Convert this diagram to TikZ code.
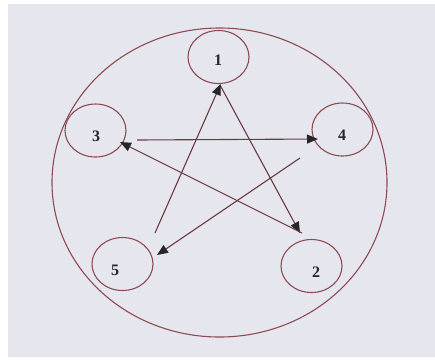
\documentclass[tikz,border=0pt]{standalone}
\usepackage{fontspec}
\setmainfont{Liberation Serif}
\usetikzlibrary{arrows.meta,shapes.geometric}
\definecolor{bg}{HTML}{E6E7EE}
\definecolor{ring}{HTML}{8E4A54}
\definecolor{arr}{HTML}{6A3A40}
\tikzset{
  stnode/.style={draw=ring, line width=1.1pt, ellipse, minimum width=61pt, minimum height=53pt, inner sep=0pt},
  lbl/.style={font=\fontsize{16}{18}\selectfont\bfseries, text=black!85},
  conn/.style={draw=arr, line width=1.1pt, -{Triangle[length=11pt,width=9pt,color=black!85,fill=black!85]}}
}
\begin{document}
\begin{tikzpicture}[x=1pt,y=-1pt]
\useasboundingbox (0,0) rectangle (435,360);
\fill[white] (0,0) rectangle (435,360);
\fill[bg] (8,4) rectangle (435,357);
% outer circle
\draw[ring, line width=1.1pt] (219.5,182.5) ellipse [x radius=167.5, y radius=154.5];
% stations
\node[stnode] (n1) at (218.5,57) {};
\node[stnode] (n3) at (95.5,130.5) {};
\node[stnode] (n4) at (342.5,129.5) {};
\node[stnode] (n5) at (122.5,264) {};
\node[stnode] (n2) at (311.5,266) {};
\node[lbl] (l1) at (218,60) {1};
\node[lbl] (l3) at (96,136) {3};
\node[lbl] (l4) at (342,135) {4};
\node[lbl] (l5) at (115,270) {5};
\node[lbl] (l2) at (316,272) {2};
% connector end points
\coordinate (a1s) at (220,85);
\coordinate (a1e) at (300,233);
\coordinate (a2s) at (155,233);
\coordinate (a2e) at (220.7,84);
\coordinate (a3s) at (137,140);
\coordinate (a3e) at (318,139);
\coordinate (a4s) at (300,158);
\coordinate (a4e) at (157,255);
\coordinate (a5s) at (302,233);
\coordinate (a5e) at (120,142);
\draw[conn] (a1s) -- (a1e);
\draw[conn] (a2s) -- (a2e);
\draw[conn] (a3s) -- (a3e);
\draw[conn] (a4s) -- (a4e);
\draw[conn] (a5s) -- (a5e);
\end{tikzpicture}
\end{document}
